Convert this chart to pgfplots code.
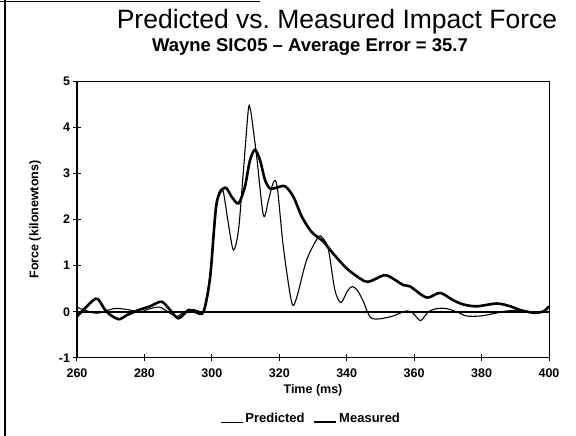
\documentclass[border=0pt]{standalone}
\usepackage{fontspec}
\setmainfont{Liberation Sans}
\usepackage{pgfplots}
\pgfplotsset{compat=1.18}
\frenchspacing
\begin{document}
\begin{tikzpicture}
\useasboundingbox (0,0) rectangle (576pt,436pt);
\draw[line width=1.2pt] (5pt,0) -- (5pt,436pt);
\draw[line width=1pt] (0,434pt) -- (260pt,434pt);
\node[font=\fontsize{26.5}{30}\selectfont] at (337pt,414pt) {Predicted vs.\ Measured Impact Force};
\node[font=\bfseries\fontsize{18.5}{21}\selectfont] at (310pt,389pt) {Wayne SIC05 -- Average Error = 35.7};
\begin{axis}[
  at={(77pt,78pt)}, anchor=south west,
  scale only axis, width=472pt, height=277pt,
  xmin=260, xmax=400, ymin=-1, ymax=5,
  xtick={260,280,...,400}, ytick={-1,0,...,5},
  xtick pos=bottom, ytick pos=left,
  tick align=center, major tick length=7pt,
  every tick/.style={black, line width=1pt},
  axis line style={line width=1pt},
  /pgf/number format/assume math mode=true,
  tick label style={font=\bfseries\fontsize{12.5}{14}\selectfont},
  xticklabel style={yshift=-4pt},
  xlabel={Time (ms)}, ylabel={Force (kilonewtons)},
  label style={font=\bfseries\fontsize{12.5}{14}\selectfont},
  xlabel style={yshift=0pt},
  ylabel style={yshift=11pt},
  legend style={draw=none, at={(0.496,-0.217)}, anchor=center,
    font=\bfseries\fontsize{13}{16}\selectfont, legend columns=2,
    /tikz/every even column/.append style={column sep=6pt}},
  legend image code/.code={\draw[#1] (0pt,-4pt) -- (22pt,-4pt);},
]
\addplot[black, line width=1.5pt, forget plot] coordinates {(260,0) (400,0)};
\addplot[black, line width=1.1pt, smooth, tension=0.5] coordinates {
(260,0.1) (262.5,0.03) (266,-0.03) (271,0.07) (274.8,0.05) (278.7,0) (281.7,0.07)
(284.6,0.1) (287.6,-0.03) (289.6,-0.1) (292,0) (294.6,0.05) (296.6,0) (297.5,0)
(299.5,0.8) (301.4,2.3) (302.4,2.63) (303.4,2.6) (304.9,1.91) (306.4,1.34)
(307.9,1.77) (309.3,3.0) (310.8,4.37) (311.3,4.42) (311.8,4.22) (313.3,3.36)
(315.3,2.09) (316.8,2.42) (318.3,2.81) (319.4,2.70) (321.2,1.41) (323.7,0.2)
(325.2,0.32) (328.1,1.12) (331.6,1.62) (333.1,1.58) (334.6,1.34) (336.5,0.47)
(338.3,0.2) (340.2,0.45) (341.7,0.55) (343.3,0.45) (344.9,0.23) (347.4,-0.14)
(352.8,-0.11) (357.8,0.02) (359.8,-0.04) (361.9,-0.19) (364.2,0) (366.7,0.07)
(369.6,0.07) (372.6,0) (375.6,-0.09) (379.6,-0.09) (383.5,-0.04) (387.5,0.02)
(391.5,0.02) (395.4,0) (400,0)};
\addlegendentry{Predicted}
\addplot[black, line width=2.6pt, smooth, tension=0.5] coordinates {
(260,-0.1) (262,0.05) (264.8,0.25) (266.3,0.27) (268.8,0) (272.3,-0.16)
(274.8,-0.07) (278.7,0.05) (281.7,0.12) (285.1,0.22) (287.6,0.04) (290.1,-0.14)
(293.1,0.04) (295,0) (297.5,0) (299.5,0.76) (301.4,2.35) (303.9,2.69)
(305.9,2.49) (307.9,2.35) (309.8,2.71) (311.3,3.28) (312.8,3.51) (314.3,3.28)
(315.8,2.85) (317.3,2.67) (319.2,2.69) (321.7,2.72) (324.2,2.49) (326.7,2.06)
(329.6,1.73) (333.1,1.52) (336.0,1.26) (340.0,0.94) (344.0,0.72) (346.4,0.65)
(350.9,0.79) (352.8,0.76) (356.8,0.58) (358.8,0.55) (363.7,0.31) (367.7,0.41)
(371.6,0.25) (374.6,0.16) (378.6,0.12) (384.5,0.18) (388.5,0.12) (391.4,0.04)
(395.4,-0.02) (398.4,0.01) (400,0.12)};
\addlegendentry{Measured}
\draw[line width=1.6pt] (axis cs:260,-1) -- (axis cs:260,5);
\draw[line width=1.6pt] (axis cs:260,-1) -- (axis cs:400,-1);
\end{axis}
\end{tikzpicture}
\end{document}
